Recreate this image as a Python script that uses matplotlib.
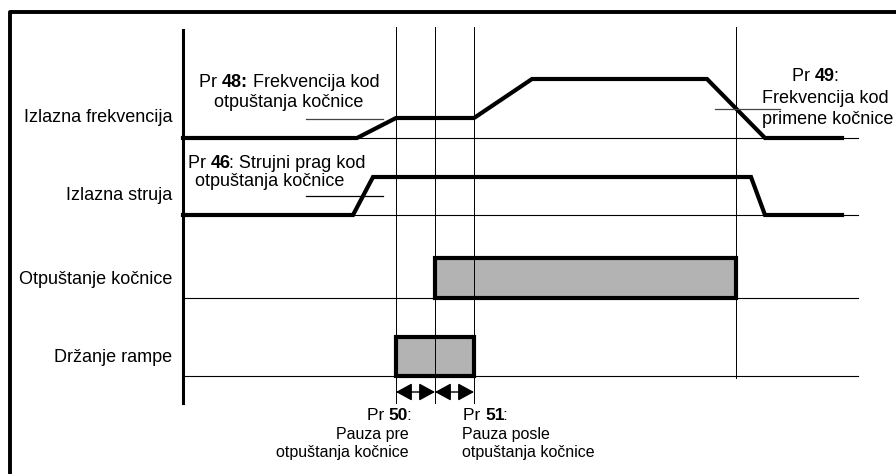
import matplotlib.pyplot as plt
from matplotlib.patches import Rectangle, FancyArrowPatch

plt.rcParams['font.family'] = ['Liberation Sans', 'DejaVu Sans']

# Vremenski dijagram (koordinate u pikselima slike)
signal_labels = ["Izlazna frekvencija", "Izlazna struja", "Otpuštanje kočnice", "Držanje rampe"]
label_y = [117, 196, 280, 357]
baseline_y = [138, 215, 298, 376]

t_freq = [183, 357, 396, 474, 532, 707, 765, 842]
y_freq = [138, 138, 118, 118, 79, 79, 138, 138]
t_cur = [183, 353, 373, 751, 765, 842]
y_cur = [215, 215, 177, 177, 215, 215]

# vertikalne linije markera
marker_x = [396, 435, 474, 736]
marker_bottom = [403, 403, 403, 378]

# pravougaonici (pocetak, kraj, gornja ivica, donja ivica)
box_otp = (435, 736, 258, 298)
box_drz = (396, 474, 337, 376)

fig = plt.figure(figsize=(8.96, 4.74), dpi=100)
ax = fig.add_axes([0, 0, 1, 1])
ax.set_xlim(0, 896)
ax.set_ylim(474, 0)
ax.axis("off")
renderer = fig.canvas.get_renderer()


def text_width(s, size, bold):
    t = ax.text(0, 0, s, fontsize=size, fontweight="bold" if bold else "normal")
    w = t.get_window_extent(renderer).width
    t.remove()
    return w


def rich_text(x, y, parts, size, ha="left"):
    # parts: lista (tekst, bold); sirina se meri kao razlika sa sledecim delom
    widths = []
    for i, (s, b) in enumerate(parts):
        if i + 1 < len(parts):
            nxt = parts[i + 1][0][0]
            w = text_width(s + "x" + nxt, size, b) - text_width("x" + nxt, size, b)
            if nxt == ":":
                w -= 2
        else:
            w = text_width(s, size, b)
        widths.append(w)
    total = sum(widths)
    if ha == "center":
        x = x - total / 2
    elif ha == "right":
        x = x - total
    for (s, b), w in zip(parts, widths):
        ax.text(x, y, s, fontsize=size, fontweight="bold" if b else "normal",
                ha="left", va="center")
        x += w


# okvir
ax.plot([10, 10, 896], [474, 12, 12], color="black", lw=2.8, solid_capstyle="projecting")
# vertikalna osa
ax.plot([183, 183], [30, 403], color="black", lw=2.2)

for x, yb in zip(marker_x, marker_bottom):
    ax.plot([x, x], [27, yb], color="black", lw=0.7)
for y in baseline_y:
    ax.plot([183, 858], [y, y], color="black", lw=0.8)

for lab, y in zip(signal_labels, label_y):
    ax.text(172, y, lab, ha="right", va="center", fontsize=13)

ax.plot(t_freq, y_freq, color="black", lw=3, solid_joinstyle="miter")
ax.plot(t_cur, y_cur, color="black", lw=3, solid_joinstyle="miter")

for x0, x1, y0, y1 in [box_otp, box_drz]:
    ax.add_patch(Rectangle((x0, y0), x1 - x0, y1 - y0, facecolor="#b3b3b3",
                           edgecolor="black", lw=3, joinstyle="miter"))

# pomocne linije za pragove
ax.plot([306, 383], [119, 119], color="#444444", lw=0.9)
ax.plot([306, 383], [196, 196], color="black", lw=0.9)
ax.plot([715, 780], [109, 109], color="#444444", lw=0.9)

# strelice za pauze
for a, b in [(396, 435), (435, 474)]:
    ax.add_patch(FancyArrowPatch((a, 392), (b, 392), arrowstyle="<|-|>,head_length=0.55,head_width=0.3",
                                 mutation_scale=18, color="black", lw=1,
                                 shrinkA=0, shrinkB=0))

rich_text(289, 82, [("Pr ", False), ("48:", True), (" Frekvencija kod", False)], 13, "center")
ax.text(289, 102, "otpuštanja kočnice", ha="center", va="center", fontsize=13)
rich_text(188, 163, [("Pr ", False), ("46", True), (": Strujni prag kod", False)], 13)
ax.text(195, 182, "otpuštanja kočnice", ha="left", va="center", fontsize=13)
rich_text(815, 76, [("Pr ", False), ("49", True), (":", False)], 13, "center")
ax.text(762, 98, "Frekvencija kod", ha="left", va="center", fontsize=13)
ax.text(762, 119, "primene kočnice", ha="left", va="center", fontsize=13)

rich_text(411, 416, [("Pr ", False), ("50", True), (":", False)], 12.5, "right")
ax.text(409, 434, "Pauza pre", ha="right", va="center", fontsize=11.5)
ax.text(409, 452, "otpuštanja kočnice", ha="right", va="center", fontsize=11.5)
rich_text(463, 416, [("Pr ", False), ("51", True), (":", False)], 12.5)
ax.text(462, 434, "Pauza posle", ha="left", va="center", fontsize=11.5)
ax.text(462, 452, "otpuštanja kočnice", ha="left", va="center", fontsize=11.5)

fig.savefig("out.png", dpi=100)
